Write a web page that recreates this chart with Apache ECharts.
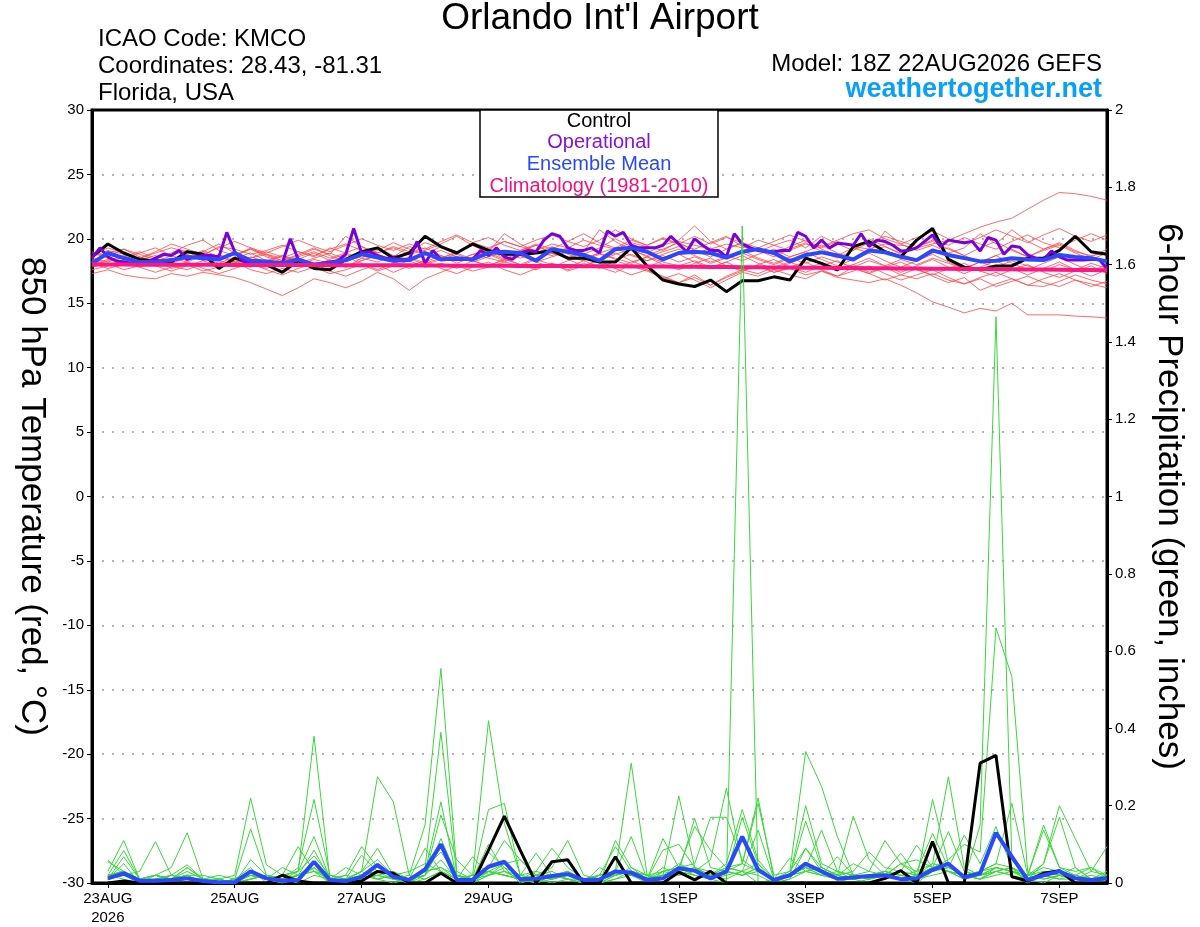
<!DOCTYPE html>
<html>
<head>
<meta charset="utf-8">
<title>Orlando Int'l Airport</title>
<script src="https://cdn.jsdelivr.net/npm/echarts@6.0.0/dist/echarts.min.js"></script>
<style>
html, body { margin: 0; padding: 0; background: #fff; }
#chart { width: 1200px; height: 927px; }
</style>
</head>
<body>
<div id="chart"></div>
<script>
// x values are forecast hours from 18Z 22AUG2026
var tickHours = [6, 54, 102, 150, 222, 270, 318, 366];
var tickLabels = ['23AUG\n2026', '25AUG', '27AUG', '29AUG', '1SEP', '3SEP', '5SEP', '7SEP'];

// 850 hPa temperature, 6-hourly from hour 0
var controlTemp = [
    18.6, 19.6, 18.9, 18.4, 18.3, 18.2, 19.0, 18.8, 17.7, 18.5, 18.1, 18.0, 17.4,
    18.3, 17.7, 17.6, 18.4, 19.0, 19.3, 18.5, 18.9, 20.2, 19.4, 18.9, 19.6, 19.1,
    18.8, 18.8, 18.9, 19.1, 18.5, 18.5, 18.2, 18.2, 19.3, 17.9, 16.8, 16.5, 16.3,
    16.8, 15.9, 16.75, 16.75, 17.05, 16.8, 18.5, 18.1, 17.6, 19.4, 19.8, 19.0, 18.6,
    19.9, 20.8, 18.4, 17.8, 17.6, 17.9, 17.9, 18.5, 18.5, 19.1, 20.2, 19.0, 18.8
];
var meanTemp = [
    18.1, 18.9, 18.5, 18.2, 18.2, 18.35, 18.6, 18.5, 18.4, 18.9, 18.3, 18.25, 18.1,
    18.4, 18.0, 18.1, 18.35, 18.8, 18.55, 18.3, 18.35, 18.9, 18.4, 18.5, 18.4, 18.9,
    19.0, 18.9, 18.3, 19.2, 19.0, 18.75, 18.3, 19.2, 19.3, 19.0, 18.4, 18.9, 19.0,
    18.9, 18.55, 19.0, 19.2, 18.9, 18.25, 18.75, 18.95, 18.7, 18.4, 19.1, 18.95, 18.6,
    18.35, 19.1, 18.75, 18.5, 18.25, 18.3, 18.5, 18.4, 18.35, 18.75, 18.6, 18.5, 18.25
];
var climTemp = [
    18.00, 18.00, 18.00, 17.99, 17.99, 17.99, 17.98, 17.98, 17.98, 17.97, 17.97, 17.97, 17.96,
    17.96, 17.96, 17.95, 17.95, 17.95, 17.94, 17.94, 17.94, 17.93, 17.93, 17.92, 17.92, 17.91,
    17.91, 17.90, 17.90, 17.89, 17.89, 17.88, 17.88, 17.87, 17.86, 17.86, 17.85, 17.84, 17.83,
    17.82, 17.81, 17.80, 17.79, 17.78, 17.77, 17.76, 17.75, 17.74, 17.73, 17.72, 17.71, 17.70,
    17.69, 17.68, 17.67, 17.66, 17.65, 17.64, 17.63, 17.62, 17.61, 17.60, 17.59, 17.58, 17.57
];
// operational run, 3-hourly from hour 0
var operTemp = [
    18.5, 19.3, 18.6, 18.3, 18.2, 18.1, 18.1, 18.2, 18.5, 18.8, 18.7, 19.1, 18.4, 18.6, 18.7, 18.7,
    18.6, 20.5, 19.0, 18.3, 18.2, 18.2, 18.1, 18.1, 18.1, 20.0, 18.4, 18.1, 18.0, 18.1, 18.2, 18.3,
    18.8, 20.8, 18.9, 19.0, 18.7, 18.5, 18.5, 18.4, 18.4, 19.8, 18.1, 19.1, 18.4, 18.4, 18.4, 18.4,
    18.4, 19.1, 18.7, 19.3, 18.6, 18.4, 18.9, 19.1, 19.0, 19.9, 20.4, 20.2, 19.3, 19.1, 19.1, 19.3,
    18.9, 20.6, 20.2, 20.5, 19.5, 19.3, 19.3, 19.3, 19.5, 20.2, 19.6, 19.0, 20.0, 19.5, 19.1, 19.1,
    18.6, 20.4, 19.6, 19.3, 19.1, 19.0, 19.0, 19.1, 19.1, 20.5, 20.2, 19.3, 19.9, 19.3, 19.65, 19.6,
    19.5, 20.4, 19.4, 19.9, 19.8, 19.5, 19.05, 19.1, 19.3, 19.8, 20.3, 19.4, 19.9, 19.8, 19.7, 19.8,
    19.05, 20.1, 19.9, 18.8, 19.45, 19.35, 18.75, 18.5, 18.4, 19.05, 18.6, 18.35, 18.35, 18.35, 18.4, 18.4,
    17.7
];
// ensemble members, 6-hourly from hour 0
var tempMembers = [
    [18.6, 19.1, 18.8, 18.5, 18.9, 19.3, 19.0, 18.7, 19.4, 19.2, 18.8, 19.1, 19.5,
     19.0, 18.7, 19.2, 19.6, 19.1, 18.9, 19.4, 19.0, 19.7, 19.3, 19.0, 19.5, 19.2,
     19.8, 19.4, 19.1, 19.6, 19.3, 19.9, 19.5, 19.2, 19.7, 19.4, 19.1, 19.8, 19.5,
     19.2, 19.6, 19.3, 19.9, 19.5, 19.1, 19.6, 19.3, 19.8, 19.4, 19.2, 19.6, 19.5,
     19.3, 19.6, 19.9, 20.4, 20.9, 21.3, 21.6, 22.3, 23.0, 23.6, 23.5, 23.3, 23.0],
    [18.0, 18.4, 18.1, 17.8, 18.2, 17.9, 17.6, 18.1, 17.8, 18.3, 18.0, 17.7, 18.2,
     17.9, 18.4, 18.1, 17.8, 18.5, 18.2, 18.7, 18.4, 18.9, 18.6, 18.3, 18.8, 18.5,
     18.2, 18.7, 18.4, 18.9, 18.6, 18.3, 18.8, 18.5, 18.1, 18.6, 18.2, 17.9, 18.3,
     17.8, 18.2, 17.6, 17.9, 17.4, 17.7, 17.2, 17.5, 17.0, 16.8, 16.6, 16.9, 16.4,
     15.8, 15.1, 14.7, 14.25, 14.6, 14.4, 15.0, 14.1, 14.1, 14.1, 14.0, 13.95, 13.85],
    [17.3, 17.6, 17.2, 17.0, 16.9, 17.3, 17.1, 17.4, 17.2, 17.0, 16.6, 16.1, 15.6,
     16.2, 16.9, 16.6, 16.2, 16.7, 17.4, 16.9, 16.0, 16.9, 17.4, 17.9, 17.5, 17.8,
     18.2, 17.9, 18.4, 18.0, 17.6, 18.1, 17.7, 18.3, 17.9, 17.5, 17.0, 16.6, 17.2,
     16.4, 17.1, 17.6, 17.3, 17.8, 18.2, 17.7, 18.1, 17.6, 18.0, 17.4, 17.8, 17.2,
     16.9, 17.3, 16.8, 16.5, 16.9, 16.3, 16.7, 17.1, 16.6, 16.3, 16.8, 16.5, 16.2],
    [18.2, 18.8, 18.4, 18.9, 19.3, 18.7, 18.3, 19.0, 19.6, 18.9, 18.5, 18.8, 18.3,
     18.7, 19.2, 18.8, 20.2, 19.4, 18.9, 19.3, 18.8, 19.1, 19.6, 20.2, 19.5, 19.0,
     20.4, 19.6, 19.0, 18.7, 19.2, 18.8, 19.3, 20.0, 19.4, 18.9, 19.5, 19.9, 21.0,
     19.8, 19.2, 19.7, 19.1, 18.8, 19.4, 19.9, 19.2, 18.7, 19.3, 18.9, 20.6, 19.6,
     19.1, 19.5, 18.9, 19.3, 20.4, 19.6, 20.7, 19.8, 19.2, 19.6, 19.0, 18.7, 18.9],
    [17.8, 18.1, 17.6, 17.9, 18.3, 17.7, 18.0, 17.5, 17.8, 18.2, 17.6, 17.3, 17.7,
     17.4, 17.8, 17.3, 17.6, 18.0, 17.5, 17.9, 18.3, 17.8, 18.1, 17.7, 18.3, 17.9,
     18.4, 18.0, 17.6, 18.1, 17.8, 18.3, 17.8, 17.4, 18.0, 17.6, 16.9, 17.3, 16.8,
     16.2, 16.8, 17.4, 17.1, 17.6, 17.2, 16.9, 17.5, 17.1, 17.8, 17.3, 16.8, 17.2,
     17.7, 17.1, 16.6, 17.0, 16.0, 16.5, 16.9, 16.4, 16.3, 16.7, 17.2, 16.8, 16.5],
    [19.0, 18.6, 19.2, 18.8, 18.4, 18.9, 19.5, 19.9, 19.1, 18.7, 19.2, 18.8, 18.5,
     19.0, 18.6, 19.3, 18.9, 18.5, 19.1, 19.7, 19.2, 18.8, 19.4, 19.0, 19.7, 20.1,
     19.5, 19.1, 19.6, 19.2, 19.8, 20.4, 19.7, 19.3, 19.9, 19.5, 20.1, 19.6, 19.2,
     19.7, 20.2, 19.4, 19.0, 19.5, 19.9, 19.3, 20.2, 19.6, 19.1, 19.7, 20.2, 19.8,
     19.4, 19.9, 19.5, 20.1, 19.6, 19.2, 19.8, 20.3, 19.7, 19.3, 19.9, 20.4, 19.9],
    [18.4, 18.0, 18.3, 18.6, 18.1, 18.5, 18.2, 18.7, 18.3, 18.0, 18.6, 18.2, 18.7,
     18.3, 17.9, 18.4, 18.8, 18.3, 18.7, 18.2, 18.6, 18.1, 18.5, 18.9, 18.4, 18.8,
     18.3, 18.7, 18.2, 18.6, 19.0, 18.5, 18.9, 18.4, 18.8, 18.3, 18.7, 18.2, 18.6,
     18.1, 18.5, 18.9, 18.4, 18.0, 18.5, 18.1, 18.6, 18.2, 17.8, 18.3, 17.9, 18.4,
     18.0, 18.5, 18.1, 17.7, 18.2, 17.8, 18.3, 17.9, 17.5, 18.0, 17.6, 18.1, 17.7],
    [18.9, 18.5, 18.0, 18.4, 18.7, 18.2, 18.6, 19.1, 18.6, 18.2, 18.5, 19.0, 18.6,
     18.1, 18.5, 18.9, 18.4, 18.8, 19.3, 18.7, 18.3, 18.7, 19.1, 18.6, 18.2, 18.6,
     19.0, 18.5, 18.9, 19.4, 18.8, 18.4, 18.9, 19.3, 18.7, 18.3, 18.8, 19.2, 18.7,
     18.2, 18.6, 19.1, 18.5, 18.1, 18.6, 19.0, 18.4, 17.9, 18.4, 18.9, 18.3, 17.8,
     18.3, 18.8, 18.2, 17.7, 18.2, 18.7, 18.1, 17.6, 18.1, 18.6, 18.0, 17.5, 18.0],
    [17.6, 17.9, 18.3, 17.8, 17.4, 17.8, 18.2, 17.7, 17.3, 17.7, 18.1, 17.6, 17.2,
     17.7, 18.1, 17.5, 17.1, 17.6, 18.0, 17.4, 17.9, 18.3, 17.7, 17.3, 17.8, 18.2,
     17.6, 17.2, 17.7, 18.1, 17.5, 17.9, 18.3, 17.7, 17.2, 17.6, 17.1, 16.6, 17.0,
     16.4, 17.0, 17.5, 17.9, 17.4, 17.8, 18.2, 17.6, 17.1, 17.5, 17.9, 17.3, 16.8,
     17.2, 17.6, 17.0, 16.5, 17.0, 17.4, 16.9, 16.4, 16.9, 17.3, 16.8, 16.3, 16.7],
    [18.3, 18.9, 19.2, 18.6, 18.2, 18.7, 19.1, 18.5, 18.1, 18.6, 19.3, 18.7, 18.3,
     18.8, 19.3, 18.7, 18.2, 18.7, 19.2, 18.6, 19.4, 19.0, 18.5, 19.0, 19.5, 18.9,
     18.4, 19.0, 19.5, 18.9, 18.5, 19.0, 20.7, 19.8, 19.1, 18.7, 19.2, 19.7, 19.1,
     18.6, 19.2, 19.7, 19.1, 18.6, 19.2, 19.7, 19.0, 18.5, 19.1, 20.0, 19.4, 18.9,
     19.4, 19.8, 19.2, 18.7, 19.3, 19.8, 19.1, 18.6, 19.2, 19.7, 19.1, 18.6, 19.2],
    [17.9, 18.3, 18.7, 18.2, 17.9, 18.4, 18.8, 18.3, 17.9, 18.5, 18.9, 18.3, 17.9,
     18.4, 18.9, 18.3, 17.8, 18.3, 18.8, 18.2, 17.7, 18.2, 18.7, 18.1, 18.6, 19.1,
     18.5, 18.0, 18.5, 19.0, 18.4, 17.9, 18.4, 18.9, 18.3, 17.8, 18.3, 18.8, 18.2,
     17.7, 18.2, 18.7, 18.1, 17.6, 18.1, 18.6, 18.0, 17.5, 18.0, 18.5, 17.9, 17.4,
     17.9, 18.4, 17.8, 17.3, 17.8, 18.3, 17.7, 17.2, 17.7, 18.2, 17.6, 17.1, 17.6],
    [18.7, 19.3, 18.9, 18.5, 19.0, 19.6, 19.2, 18.8, 19.3, 19.8, 19.3, 18.9, 19.4,
     19.9, 19.4, 19.0, 19.5, 20.0, 19.5, 19.1, 19.6, 19.2, 19.8, 20.3, 19.7, 19.3,
     19.8, 19.4, 19.9, 20.3, 19.8, 19.4, 19.9, 20.7, 20.0, 19.5, 20.0, 19.6, 20.2,
     19.6, 20.1, 19.7, 19.3, 19.8, 20.3, 19.8, 19.4, 19.9, 20.4, 20.7, 20.0, 19.6,
     20.1, 20.6, 20.0, 19.6, 20.1, 20.7, 20.2, 19.7, 20.3, 20.8, 20.2, 19.8, 20.3],
    [18.1, 17.7, 18.0, 18.4, 17.9, 17.5, 17.9, 18.3, 18.8, 18.2, 17.8, 18.3, 18.7,
     18.2, 17.8, 18.2, 18.6, 18.1, 17.6, 18.1, 18.5, 18.0, 18.4, 18.8, 18.3, 17.9,
     18.4, 18.8, 18.2, 17.8, 18.3, 18.7, 18.1, 17.7, 18.2, 18.6, 18.0, 17.6, 18.1,
     18.5, 17.9, 17.5, 18.0, 18.4, 17.8, 17.4, 17.9, 18.3, 17.7, 17.3, 17.8, 18.2,
     17.6, 17.2, 17.7, 18.1, 17.5, 17.1, 17.6, 18.0, 17.4, 17.0, 17.5, 17.9, 17.3],
    [18.5, 18.2, 18.6, 19.0, 18.5, 18.1, 18.5, 19.0, 18.4, 18.8, 19.2, 18.6, 18.2,
     18.6, 19.0, 18.5, 18.9, 19.4, 18.8, 18.4, 18.9, 19.3, 18.7, 18.3, 18.8, 19.2,
     18.6, 19.1, 19.5, 18.9, 19.3, 18.7, 18.3, 18.8, 19.2, 18.6, 19.0, 19.4, 18.8,
     19.3, 18.7, 18.3, 18.8, 19.2, 18.6, 19.0, 19.5, 18.9, 18.5, 19.0, 19.4, 18.8,
     18.4, 18.9, 19.3, 18.7, 18.2, 18.7, 19.2, 18.6, 19.1, 19.5, 18.9, 18.4, 18.9]
];

// 6-hour precipitation (inches), 6-hourly from hour 6
var controlPcp = [
    0, 0.005, 0, 0, 0, 0, 0, 0, 0, 0, 0, 0.02, 0.005, 0, 0, 0,
    0.005, 0.03, 0.025, 0, 0, 0.025, 0, 0, 0.085, 0.173, 0.085, 0, 0.055, 0.06, 0, 0,
    0.068, 0, 0, 0, 0.028, 0.008, 0.03, 0, 0, 0, 0, 0, 0, 0, 0, 0,
    0, 0.012, 0.032, 0, 0.107, 0, 0, 0.31, 0.33, 0.016, 0.005, 0.025, 0.032, 0, 0, 0
];
var meanPcp = [
    0.012, 0.025, 0.006, 0.006, 0.008, 0.012, 0.005, 0.002, 0.002, 0.03, 0.012, 0.006, 0.008, 0.055, 0.008, 0.005,
    0.016, 0.047, 0.016, 0.008, 0.035, 0.10, 0.008, 0.008, 0.042, 0.055, 0.01, 0.011, 0.018, 0.023, 0.008, 0.009,
    0.03, 0.027, 0.008, 0.012, 0.038, 0.032, 0.012, 0.03, 0.12, 0.034, 0.008, 0.02, 0.05, 0.03, 0.011, 0.014,
    0.018, 0.02, 0.01, 0.012, 0.034, 0.05, 0.015, 0.025, 0.13, 0.068, 0.008, 0.02, 0.03, 0.012, 0.008, 0.012
];
var pcpMembers = [
    [0.02, 0.03, 0, 0.01, 0, 0.01, 0, 0, 0, 0.02, 0.01, 0, 0.01, 0.05, 0, 0,
     0.01, 0.02, 0.01, 0, 0.03, 0.21, 0.01, 0, 0.02, 0.04, 0, 0.01, 0.02, 0.01, 0, 0,
     0.02, 0.03, 0, 0.01, 0.04, 0.02, 0.01, 0, 1.70, 0, 0, 0.01, 0.09, 0.03, 0.01, 0,
     0.01, 0.02, 0.01, 0, 0.03, 0.05, 0.01, 0.02, 0.03, 0.04, 0, 0.02, 0.01, 0.01, 0, 0.01],
    [0.01, 0.02, 0.01, 0, 0.02, 0.01, 0, 0, 0.01, 0.04, 0, 0.01, 0, 0.02, 0.01, 0,
     0.02, 0.01, 0, 0.01, 0.02, 0.115, 0.02, 0, 0.03, 0.02, 0.01, 0, 0.01, 0.02, 0, 0.01,
     0.03, 0.12, 0.01, 0.02, 0.03, 0.01, 0.02, 0.01, 0.03, 0.02, 0, 0.02, 0.04, 0.02, 0.01, 0.01,
     0, 0.01, 0.02, 0.01, 0.04, 0.03, 0.01, 0.15, 1.465, 0.06, 0.01, 0, 0.02, 0.01, 0.01, 0],
    [0.01, 0.05, 0, 0.01, 0.01, 0.02, 0, 0, 0, 0.01, 0.02, 0.01, 0.02, 0.03, 0, 0.01,
     0.03, 0.01, 0.02, 0, 0.01, 0.03, 0, 0.01, 0.19, 0.206, 0.02, 0.01, 0, 0.01, 0.01, 0,
     0.01, 0.02, 0, 0.03, 0.02, 0.04, 0.01, 0.02, 0.03, 0.05, 0, 0.01, 0.03, 0.02, 0.068, 0.02,
     0.01, 0.02, 0.01, 0.02, 0.04, 0.06, 0.10, 0.08, 0.66, 0.534, 0.03, 0.01, 0.02, 0.01, 0, 0.02],
    [0.02, 0.03, 0.01, 0, 0.01, 0.02, 0, 0.01, 0, 0.02, 0.01, 0.02, 0.03, 0.12, 0.01, 0,
     0.02, 0.03, 0.01, 0.02, 0.15, 0.555, 0.03, 0.01, 0.02, 0.05, 0.01, 0.02, 0.01, 0.03, 0, 0.01,
     0.02, 0.04, 0.01, 0.02, 0.05, 0.03, 0.02, 0.04, 0.03, 0, 0.01, 0.02, 0.16, 0.04, 0.02, 0.01,
     0.02, 0.03, 0.01, 0.02, 0.03, 0.04, 0.02, 0.01, 0.02, 0.03, 0.01, 0.05, 0.17, 0.04, 0.01, 0.02],
    [0.03, 0.11, 0.01, 0.02, 0.01, 0.03, 0.01, 0, 0.01, 0.02, 0.01, 0, 0.02, 0.085, 0.01, 0,
     0.01, 0.02, 0.01, 0, 0.02, 0.06, 0.01, 0.02, 0.42, 0.154, 0.02, 0.01, 0.02, 0.01, 0, 0,
     0.01, 0.03, 0.02, 0.01, 0.03, 0.02, 0.01, 0.03, 0.02, 0.04, 0.01, 0.02, 0.05, 0.03, 0.01, 0.02,
     0.01, 0.02, 0.05, 0.03, 0.128, 0.04, 0.02, 0.01, 0.03, 0.02, 0, 0.03, 0.02, 0.01, 0.02, 0.01],
    [0.01, 0.02, 0, 0.01, 0.02, 0.01, 0.01, 0, 0, 0.01, 0.02, 0.01, 0.04, 0.216, 0.02, 0.01,
     0.03, 0.06, 0.02, 0.01, 0.04, 0.39, 0.02, 0.01, 0.03, 0.02, 0.01, 0.03, 0.02, 0.01, 0, 0.02,
     0.03, 0.02, 0.01, 0.04, 0.02, 0.03, 0.06, 0.245, 0.05, 0.03, 0.01, 0.02, 0.04, 0.02, 0.03, 0.01,
     0.02, 0.01, 0.03, 0.02, 0.05, 0.275, 0.04, 0.02, 0.03, 0.04, 0.01, 0.02, 0.03, 0.01, 0, 0.01],
    [0.02, 0.01, 0, 0.02, 0.01, 0.02, 0, 0, 0.01, 0.14, 0.02, 0.01, 0.03, 0.38, 0.01, 0,
     0.02, 0.01, 0.02, 0.01, 0.03, 0.04, 0.01, 0, 0.02, 0.03, 0.01, 0.02, 0.01, 0.02, 0.01, 0,
     0.02, 0.03, 0.01, 0.02, 0.225, 0.04, 0.02, 0.03, 0.02, 0.03, 0.01, 0.03, 0.34, 0.25, 0.12, 0.02,
     0.01, 0.02, 0.03, 0.01, 0.02, 0.03, 0.01, 0.02, 0.04, 0.03, 0.01, 0.02, 0.01, 0.02, 0.01, 0],
    [0.01, 0.02, 0.01, 0, 0.01, 0.02, 0, 0.01, 0.02, 0.22, 0.047, 0.02, 0.01, 0.04, 0, 0.01,
     0.03, 0.275, 0.21, 0.02, 0.01, 0.03, 0.01, 0.02, 0.03, 0.02, 0.01, 0, 0.02, 0.03, 0, 0.01,
     0.03, 0.31, 0.02, 0.01, 0.03, 0.02, 0.01, 0.03, 0.02, 0.04, 0, 0.02, 0.03, 0.02, 0.01, 0.02,
     0.01, 0.03, 0.02, 0.01, 0.216, 0.05, 0.02, 0.03, 0.05, 0.206, 0.02, 0.01, 0.02, 0.01, 0, 0.02],
    [0.02, 0.084, 0.01, 0.02, 0.04, 0.13, 0.01, 0, 0.01, 0.02, 0.01, 0.04, 0.02, 0.05, 0.01, 0.02,
     0.01, 0.02, 0.03, 0.01, 0.02, 0.176, 0.06, 0.02, 0.03, 0.02, 0.01, 0.02, 0.03, 0.01, 0, 0.04,
     0.02, 0.03, 0.01, 0.02, 0.03, 0.167, 0.04, 0.03, 0.05, 0.22, 0.01, 0.02, 0.03, 0.04, 0.02, 0.173,
     0.06, 0.02, 0.03, 0.02, 0.03, 0.04, 0.02, 0.01, 0.03, 0.02, 0.01, 0.03, 0.02, 0.04, 0.01, 0.02],
    [0.01, 0.02, 0.03, 0.107, 0.02, 0.01, 0, 0.01, 0, 0.01, 0.02, 0.01, 0.02, 0.03, 0.01, 0.04,
     0.02, 0.03, 0.02, 0.01, 0.09, 0.03, 0.01, 0.02, 0.04, 0.11, 0.06, 0.02, 0.01, 0.03, 0.01, 0,
     0.11, 0.04, 0.02, 0.01, 0.03, 0.04, 0.02, 0.05, 0.19, 0.06, 0.01, 0.02, 0.04, 0.03, 0.02, 0.01,
     0.02, 0.03, 0.077, 0.02, 0.04, 0.03, 0.02, 0.01, 0.04, 0.03, 0.02, 0.15, 0.04, 0.02, 0.01, 0.03],
    [0.06, 0.02, 0.01, 0.02, 0.01, 0.04, 0.01, 0, 0.01, 0.03, 0.01, 0.02, 0.094, 0.03, 0.02, 0.01,
     0.02, 0.03, 0.02, 0.01, 0.02, 0.094, 0.02, 0.01, 0.10, 0.03, 0.02, 0.077, 0.02, 0.03, 0.01, 0.02,
     0.03, 0.02, 0.01, 0.03, 0.04, 0.05, 0.17, 0.17, 0.06, 0.03, 0.01, 0.02, 0.20, 0.05, 0.03, 0.02,
     0.03, 0.02, 0.05, 0.06, 0.04, 0.133, 0.03, 0.02, 0.04, 0.03, 0.02, 0.04, 0.03, 0.02, 0.04, 0.01],
    [0.01, 0.068, 0.01, 0.02, 0.01, 0.02, 0.02, 0.01, 0, 0.01, 0.02, 0.01, 0.02, 0.04, 0.01, 0.02,
     0.094, 0.04, 0.02, 0.03, 0.05, 0.03, 0.01, 0.068, 0.02, 0.03, 0.01, 0.02, 0.04, 0.11, 0.02, 0.01,
     0.02, 0.03, 0.01, 0.115, 0.04, 0.03, 0.02, 0.04, 0.05, 0.206, 0.02, 0.03, 0.09, 0.04, 0.02, 0.05,
     0.03, 0.11, 0.05, 0.02, 0.04, 0.03, 0.02, 0.03, 0.05, 0.04, 0.02, 0.05, 0.20, 0.115, 0.03, 0.02],
    [0.055, 0.03, 0.01, 0.02, 0.01, 0.04, 0.01, 0.02, 0.01, 0.02, 0.01, 0.02, 0.03, 0.07, 0.02, 0.01,
     0.03, 0.09, 0.02, 0.01, 0.03, 0.04, 0.02, 0.01, 0.03, 0.05, 0.06, 0.02, 0.01, 0.02, 0.01, 0.02,
     0.03, 0.02, 0.01, 0.085, 0.10, 0.04, 0.03, 0.02, 0.17, 0.05, 0.01, 0.02, 0.04, 0.137, 0.03, 0.02,
     0.02, 0.03, 0.02, 0.03, 0.05, 0.04, 0.124, 0.05, 0.146, 0.04, 0.02, 0.03, 0.02, 0.01, 0.03, 0.094],
    [0.02, 0.03, 0.01, 0.01, 0.02, 0.047, 0.01, 0.01, 0, 0.06, 0.02, 0.01, 0.02, 0.05, 0.01, 0.01,
     0.072, 0.03, 0.02, 0.01, 0.04, 0.08, 0.02, 0.01, 0.08, 0.04, 0.02, 0.03, 0.09, 0.04, 0.01, 0.02,
     0.094, 0.03, 0.02, 0.03, 0.04, 0.146, 0.085, 0.04, 0.03, 0.137, 0.01, 0.064, 0.03, 0.04, 0.02, 0.03,
     0.08, 0.04, 0.03, 0.098, 0.04, 0.03, 0.02, 0.03, 0.04, 0.03, 0.02, 0.137, 0.04, 0.03, 0.04, 0.02]
];

var FONT = '"Liberation Sans", Arial, Helvetica, sans-serif';

// pair each value with its forecast hour
var toPairs = function (vals, start, step) {
    return vals.map(function (v, i) { return [start + i * step, v]; });
};

var lineSeries = function (data, yIndex, color, width, z) {
    return {
        type: 'line',
        yAxisIndex: yIndex,
        data: data,
        symbol: 'none',
        silent: true,
        lineStyle: { color: color, width: width },
        z: z
    };
};

var series = [];
for (var i = 0; i < tempMembers.length; i++) {
    series.push(lineSeries(toPairs(tempMembers[i], 0, 6), 0, 'rgba(255,70,70,0.8)', 1, 1));
}
series.push(lineSeries(toPairs(controlTemp, 0, 6), 0, '#000000', 3, 3));
series.push(lineSeries(toPairs(operTemp, 0, 3), 0, '#7a00dc', 3, 4));
series.push(lineSeries(toPairs(meanTemp, 0, 6), 0, '#2a48ff', 4, 5));
series.push(lineSeries(toPairs(climTemp, 0, 6), 0, '#ff1585', 4, 6));
for (var j = 0; j < pcpMembers.length; j++) {
    series.push(lineSeries(toPairs(pcpMembers[j], 6, 6), 1, '#3ad83a', 1, 7));
}
series.push(lineSeries(toPairs(controlPcp, 6, 6), 1, '#000000', 3, 8));
series.push(lineSeries(toPairs(meanPcp, 6, 6), 1, '#2a48ff', 4, 9));

var chart = echarts.init(document.getElementById('chart'), null, { renderer: 'canvas' });

var headText = function (x, y, text, font, color, align) {
    return {
        type: 'text', x: x, y: y, z: 20,
        style: { text: text, font: font, fill: color, align: align, verticalAlign: 'middle' }
    };
};

var option = {
    animation: false,
    backgroundColor: '#ffffff',
    textStyle: { fontFamily: FONT },
    grid: {
        left: 92, right: 93, top: 110, bottom: 44,
        show: true, borderColor: '#000', borderWidth: 3
    },
    xAxis: {
        type: 'value',
        min: 0,
        max: 384,
        axisLine: { onZero: false, lineStyle: { color: '#000', width: 3 } },
        axisTick: { show: true, customValues: tickHours, length: 5, lineStyle: { color: '#000', width: 1 } },
        axisLabel: {
            customValues: tickHours,
            formatter: function (v) { return tickLabels[tickHours.indexOf(v)]; },
            color: '#000', fontSize: 15, fontFamily: FONT, margin: 6, lineHeight: 19
        },
        splitLine: { show: false }
    },
    yAxis: [
        {
            type: 'value',
            min: -30, max: 30, interval: 5,
            position: 'left',
            name: '850 hPa Temperature (red, \u00b0C)',
            nameLocation: 'middle',
            nameRotate: -90,
            nameGap: 43,
            nameTextStyle: { fontSize: 35, fontFamily: FONT, color: '#000' },
            axisLine: { show: true, lineStyle: { color: '#000', width: 3 } },
            axisTick: { show: true, length: 5, lineStyle: { color: '#000', width: 1 } },
            axisLabel: { color: '#000', fontSize: 15, fontFamily: FONT, margin: 8 },
            splitLine: { show: true, showMinLine: false, showMaxLine: false, lineStyle: { color: '#b4b4b4', width: 2, type: [2, 8] } }
        },
        {
            type: 'value',
            min: 0, max: 2, interval: 0.2,
            position: 'right',
            name: '6-hour Precipitation (green, inches)',
            nameLocation: 'middle',
            nameRotate: -90,
            nameGap: 44,
            nameTextStyle: { fontSize: 35, fontFamily: FONT, color: '#000' },
            axisLine: { show: true, lineStyle: { color: '#000', width: 3 } },
            axisTick: { show: true, length: 5, lineStyle: { color: '#000', width: 1 } },
            axisLabel: { color: '#000', fontSize: 15, fontFamily: FONT, margin: 8 },
            splitLine: { show: false }
        }
    ],
    graphic: [
        headText(600, 19, "Orlando Int'l Airport", '37px ' + FONT, '#000', 'center'),
        headText(98, 39, 'ICAO Code: KMCO', '24px ' + FONT, '#000', 'left'),
        headText(98, 66, 'Coordinates: 28.43, -81.31', '24px ' + FONT, '#000', 'left'),
        headText(98, 93, 'Florida, USA', '24px ' + FONT, '#000', 'left'),
        headText(1102, 64, 'Model: 18Z 22AUG2026 GEFS', '24px ' + FONT, '#000', 'right'),
        headText(1102, 90, 'weathertogether.net', 'bold 27px ' + FONT, '#0aa0f5', 'right'),
        { type: 'rect', z: 20, shape: { x: 480, y: 110, width: 238, height: 87 }, style: { fill: '#fff', stroke: '#000', lineWidth: 1.5 } },
        headText(599, 121, 'Control', '20px ' + FONT, '#000', 'center'),
        headText(599, 142, 'Operational', '20px ' + FONT, '#8a10dc', 'center'),
        headText(599, 164, 'Ensemble Mean', '20px ' + FONT, '#2a48ff', 'center'),
        headText(599, 186, 'Climatology (1981-2010)', '20px ' + FONT, '#ee1480', 'center')
    ],
    series: series
};

chart.setOption(option);
</script>
</body>
</html>
